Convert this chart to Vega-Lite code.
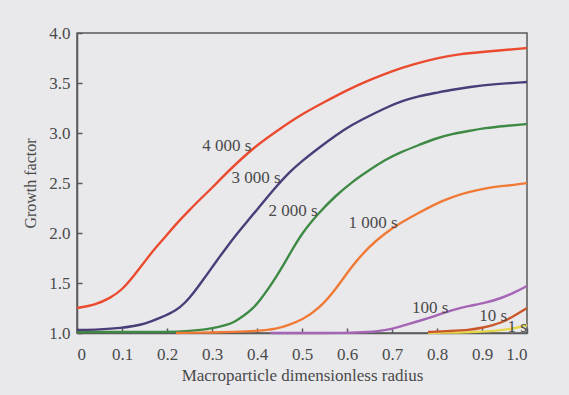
{
  "$schema": "https://vega.github.io/schema/vega-lite/v6.json",
  "width": 450,
  "height": 300,
  "autosize": "none",
  "padding": {"left": 77, "top": 33, "right": 42, "bottom": 62},
  "background": "#e9e9ec",
  "config": {
    "view": {"stroke": "#5a5a5a", "strokeWidth": 1.5},
    "font": "Liberation Serif",
    "axis": {
      "grid": false,
      "domainColor": "#5a5a5a",
      "domainWidth": 1.5,
      "tickColor": "#5a5a5a",
      "tickWidth": 1.5,
      "labelFont": "Liberation Serif",
      "labelFontSize": 17,
      "labelColor": "#4a4a4a",
      "titleFont": "Liberation Serif",
      "titleFontSize": 16,
      "titleFontWeight": "normal",
      "titleColor": "#4a4a4a"
    }
  },
  "datasets": {
    "curves": [
      {"k": "a", "x": 0.78, "y": 1.0}, {"k": "a", "x": 0.85, "y": 1.005}, {"k": "a", "x": 0.9, "y": 1.012}, {"k": "a", "x": 0.95, "y": 1.03}, {"k": "a", "x": 0.98, "y": 1.055}, {"k": "a", "x": 1.0, "y": 1.08},
      {"k": "b", "x": 0.78, "y": 1.01}, {"k": "b", "x": 0.83, "y": 1.02}, {"k": "b", "x": 0.87, "y": 1.03}, {"k": "b", "x": 0.9, "y": 1.05}, {"k": "b", "x": 0.944, "y": 1.1}, {"k": "b", "x": 0.974, "y": 1.18}, {"k": "b", "x": 1.0, "y": 1.25},
      {"k": "c", "x": 0.0, "y": 1.01}, {"k": "c", "x": 0.1, "y": 1.01}, {"k": "c", "x": 0.2, "y": 1.01}, {"k": "c", "x": 0.25, "y": 1.02}, {"k": "c", "x": 0.296, "y": 1.04}, {"k": "c", "x": 0.333, "y": 1.08}, {"k": "c", "x": 0.35, "y": 1.11}, {"k": "c", "x": 0.37, "y": 1.17}, {"k": "c", "x": 0.39, "y": 1.24}, {"k": "c", "x": 0.407, "y": 1.33}, {"k": "c", "x": 0.425, "y": 1.44}, {"k": "c", "x": 0.444, "y": 1.57}, {"k": "c", "x": 0.46, "y": 1.69}, {"k": "c", "x": 0.474, "y": 1.8}, {"k": "c", "x": 0.5, "y": 2.0}, {"k": "c", "x": 0.537, "y": 2.2}, {"k": "c", "x": 0.574, "y": 2.37}, {"k": "c", "x": 0.611, "y": 2.51}, {"k": "c", "x": 0.65, "y": 2.63}, {"k": "c", "x": 0.684, "y": 2.73}, {"k": "c", "x": 0.72, "y": 2.81}, {"k": "c", "x": 0.76, "y": 2.88}, {"k": "c", "x": 0.8, "y": 2.95}, {"k": "c", "x": 0.833, "y": 2.99}, {"k": "c", "x": 0.87, "y": 3.02}, {"k": "c", "x": 0.907, "y": 3.05}, {"k": "c", "x": 0.95, "y": 3.07}, {"k": "c", "x": 1.0, "y": 3.09},
      {"k": "d", "x": 0.22, "y": 1.0}, {"k": "d", "x": 0.3, "y": 1.005}, {"k": "d", "x": 0.35, "y": 1.01}, {"k": "d", "x": 0.4, "y": 1.02}, {"k": "d", "x": 0.444, "y": 1.04}, {"k": "d", "x": 0.47, "y": 1.08}, {"k": "d", "x": 0.5, "y": 1.13}, {"k": "d", "x": 0.537, "y": 1.24}, {"k": "d", "x": 0.574, "y": 1.43}, {"k": "d", "x": 0.611, "y": 1.67}, {"k": "d", "x": 0.648, "y": 1.86}, {"k": "d", "x": 0.685, "y": 2.0}, {"k": "d", "x": 0.722, "y": 2.11}, {"k": "d", "x": 0.759, "y": 2.2}, {"k": "d", "x": 0.796, "y": 2.29}, {"k": "d", "x": 0.833, "y": 2.36}, {"k": "d", "x": 0.87, "y": 2.41}, {"k": "d", "x": 0.91, "y": 2.45}, {"k": "d", "x": 0.944, "y": 2.47}, {"k": "d", "x": 0.97, "y": 2.48}, {"k": "d", "x": 1.0, "y": 2.5},
      {"k": "e", "x": 0.43, "y": 1.0}, {"k": "e", "x": 0.5, "y": 1.0}, {"k": "e", "x": 0.6, "y": 1.0}, {"k": "e", "x": 0.65, "y": 1.01}, {"k": "e", "x": 0.67, "y": 1.02}, {"k": "e", "x": 0.7, "y": 1.04}, {"k": "e", "x": 0.722, "y": 1.07}, {"k": "e", "x": 0.76, "y": 1.12}, {"k": "e", "x": 0.796, "y": 1.17}, {"k": "e", "x": 0.833, "y": 1.23}, {"k": "e", "x": 0.87, "y": 1.27}, {"k": "e", "x": 0.907, "y": 1.3}, {"k": "e", "x": 0.944, "y": 1.35}, {"k": "e", "x": 0.97, "y": 1.4}, {"k": "e", "x": 1.0, "y": 1.47},
      {"k": "f", "x": 0.0, "y": 1.03}, {"k": "f", "x": 0.05, "y": 1.035}, {"k": "f", "x": 0.1, "y": 1.05}, {"k": "f", "x": 0.126, "y": 1.07}, {"k": "f", "x": 0.15, "y": 1.09}, {"k": "f", "x": 0.185, "y": 1.15}, {"k": "f", "x": 0.222, "y": 1.23}, {"k": "f", "x": 0.24, "y": 1.3}, {"k": "f", "x": 0.259, "y": 1.4}, {"k": "f", "x": 0.28, "y": 1.53}, {"k": "f", "x": 0.296, "y": 1.63}, {"k": "f", "x": 0.315, "y": 1.75}, {"k": "f", "x": 0.333, "y": 1.86}, {"k": "f", "x": 0.35, "y": 1.96}, {"k": "f", "x": 0.37, "y": 2.07}, {"k": "f", "x": 0.39, "y": 2.18}, {"k": "f", "x": 0.407, "y": 2.27}, {"k": "f", "x": 0.425, "y": 2.37}, {"k": "f", "x": 0.444, "y": 2.47}, {"k": "f", "x": 0.47, "y": 2.6}, {"k": "f", "x": 0.5, "y": 2.72}, {"k": "f", "x": 0.54, "y": 2.86}, {"k": "f", "x": 0.573, "y": 2.97}, {"k": "f", "x": 0.61, "y": 3.08}, {"k": "f", "x": 0.649, "y": 3.17}, {"k": "f", "x": 0.69, "y": 3.26}, {"k": "f", "x": 0.722, "y": 3.32}, {"k": "f", "x": 0.76, "y": 3.37}, {"k": "f", "x": 0.796, "y": 3.4}, {"k": "f", "x": 0.83, "y": 3.43}, {"k": "f", "x": 0.871, "y": 3.46}, {"k": "f", "x": 0.93, "y": 3.49}, {"k": "f", "x": 1.0, "y": 3.51},
      {"k": "g", "x": 0.0, "y": 1.25}, {"k": "g", "x": 0.04, "y": 1.28}, {"k": "g", "x": 0.074, "y": 1.35}, {"k": "g", "x": 0.1, "y": 1.43}, {"k": "g", "x": 0.126, "y": 1.57}, {"k": "g", "x": 0.15, "y": 1.71}, {"k": "g", "x": 0.17, "y": 1.83}, {"k": "g", "x": 0.2, "y": 1.98}, {"k": "g", "x": 0.222, "y": 2.1}, {"k": "g", "x": 0.25, "y": 2.23}, {"k": "g", "x": 0.274, "y": 2.34}, {"k": "g", "x": 0.3, "y": 2.45}, {"k": "g", "x": 0.33, "y": 2.59}, {"k": "g", "x": 0.36, "y": 2.72}, {"k": "g", "x": 0.4, "y": 2.88}, {"k": "g", "x": 0.45, "y": 3.04}, {"k": "g", "x": 0.5, "y": 3.19}, {"k": "g", "x": 0.55, "y": 3.31}, {"k": "g", "x": 0.6, "y": 3.43}, {"k": "g", "x": 0.65, "y": 3.53}, {"k": "g", "x": 0.7, "y": 3.62}, {"k": "g", "x": 0.75, "y": 3.69}, {"k": "g", "x": 0.8, "y": 3.75}, {"k": "g", "x": 0.85, "y": 3.79}, {"k": "g", "x": 0.9, "y": 3.81}, {"k": "g", "x": 0.95, "y": 3.83}, {"k": "g", "x": 1.0, "y": 3.85}
    ],
    "labels": [
      {"t": "4 000 s", "x": 0.333, "y": 2.87},
      {"t": "3 000 s", "x": 0.398, "y": 2.55},
      {"t": "2 000 s", "x": 0.48, "y": 2.22},
      {"t": "1 000 s", "x": 0.658, "y": 2.1},
      {"t": "100 s", "x": 0.785, "y": 1.25},
      {"t": "10 s", "x": 0.925, "y": 1.17},
      {"t": "1 s", "x": 0.978, "y": 1.06}
    ]
  },
  "layer": [
    {
      "data": {"name": "curves"},
      "mark": {"type": "line", "strokeWidth": 2.4, "interpolate": "basis"},
      "encoding": {
        "x": {
          "field": "x", "type": "quantitative",
          "scale": {"domain": [0, 1], "nice": false},
          "axis": {
            "title": "Macroparticle dimensionless radius",
            "titleFontSize": 17,
            "values": [0, 0.1, 0.2, 0.3, 0.4, 0.5, 0.6, 0.7, 0.8, 0.9, 1.0],
            "labelExpr": "datum.value == 0 ? '0' : format(datum.value, '.1f')",
            "tickSize": -5,
            "labelPadding": 18,
            "titlePadding": 5
          }
        },
        "y": {
          "field": "y", "type": "quantitative",
          "scale": {"domain": [1, 4], "nice": false, "zero": false},
          "axis": {
            "title": "Growth factor",
            "values": [1, 1.5, 2, 2.5, 3, 3.5, 4],
            "format": ".1f",
            "tickSize": -5,
            "labelPadding": 12,
            "titlePadding": 10
          }
        },
        "color": {
          "field": "k", "type": "nominal",
          "scale": {
            "domain": ["a", "b", "c", "d", "e", "f", "g"],
            "range": ["#e6d64a", "#c9572a", "#3e8a45", "#f07a35", "#a565b5", "#4a3d78", "#ea4b2f"]
          },
          "legend": null
        }
      }
    },
    {
      "data": {"name": "labels"},
      "mark": {"type": "text", "font": "Liberation Serif", "fontSize": 17, "color": "#4a4a4a", "align": "center", "baseline": "middle"},
      "encoding": {
        "x": {"field": "x", "type": "quantitative"},
        "y": {"field": "y", "type": "quantitative"},
        "text": {"field": "t"}
      }
    }
  ]
}
